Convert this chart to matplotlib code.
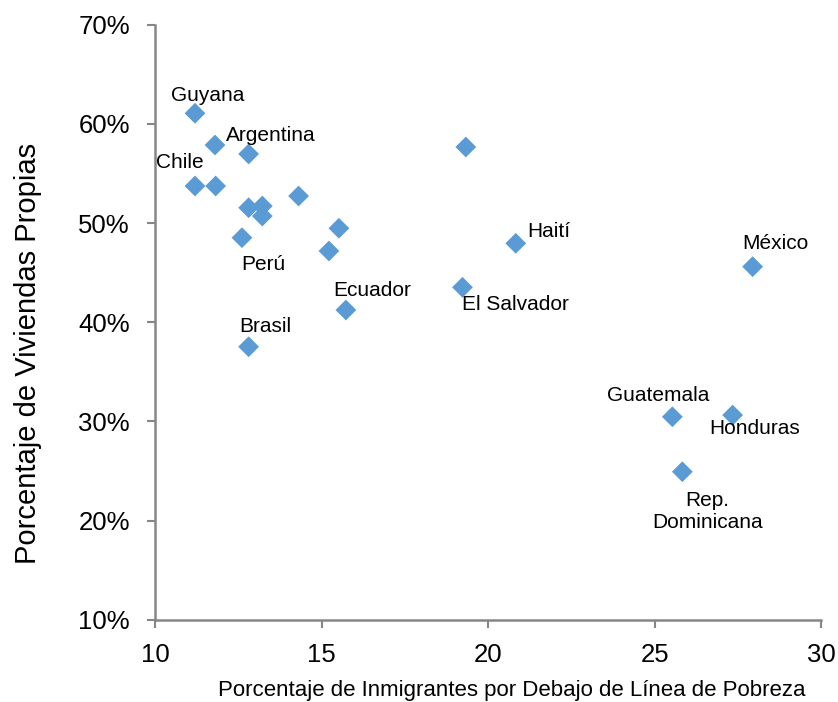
import matplotlib
matplotlib.use("Agg")
import matplotlib.pyplot as plt
from matplotlib.ticker import FuncFormatter

plt.rcParams['font.family'] = ['Liberation Sans', 'DejaVu Sans']

# Data (x: % immigrants below poverty line, y: % own housing)
pobreza = [11.2, 11.8, 12.81, 11.2, 11.82, 12.81, 13.22, 13.22, 12.61, 14.31,
           15.52, 15.22, 15.73, 12.81, 19.33, 20.83, 19.23, 27.94, 25.53, 27.34, 25.83]
viviendas = [61.06, 57.86, 56.96, 53.73, 53.73, 51.54, 51.71, 50.7, 48.52, 52.72,
             49.47, 47.18, 41.23, 37.53, 57.66, 47.95, 43.52, 45.6, 30.47, 30.64, 24.93]

# labels: (point index, text)
etiquetas = [
    (0, "Guyana"), (1, "Argentina"), (3, "Chile"), (8, "Perú"), (13, "Brasil"),
    (12, "Ecuador"), (15, "Haití"), (16, "El Salvador"), (17, "México"),
    (18, "Guatemala"), (19, "Honduras"), (20, "Rep.\nDominicana"),
]
# label offsets in pixels (dx, dy) with dy positive upward
offsets = {
    0: (13, 18), 1: (56, 10), 3: (-15, 23), 8: (21, -27), 13: (17, 20),
    12: (26, 20), 15: (33, 12), 16: (53, -17), 17: (23, 23),
    18: (-14, 21), 19: (22, -13), 20: (25, -40),
}

xticks = [10, 15, 20, 25, 30]
yticks = [10, 20, 30, 40, 50, 60, 70]

fig = plt.figure(figsize=(8.38, 7.02), dpi=100)
ax = fig.add_axes([0.185, 0.117, 0.795, 0.848])

ax.scatter(pobreza, viviendas, marker='D', s=112, color='#5B9BD5', edgecolors='none', zorder=3)

for idx, txt in etiquetas:
    dx, dy = offsets[idx]
    ax.annotate(txt, (pobreza[idx], viviendas[idx]), xytext=(dx, dy),
                textcoords='offset pixels', ha='center', va='center',
                fontsize=15, color='black', multialignment='center', zorder=4)

ax.set_xlim(10, 30)
ax.set_ylim(10, 70)
ax.set_xticks(xticks)
ax.set_yticks(yticks)
ax.yaxis.set_major_formatter(FuncFormatter(lambda v, p: f"{v:.0f}%"))

for s in ['top', 'right']:
    ax.spines[s].set_visible(False)
for s in ['left', 'bottom']:
    ax.spines[s].set_color('#868686')
    ax.spines[s].set_linewidth(1.8)

ax.tick_params(axis='both', direction='out', length=6, width=1.5, color='#868686',
               labelsize=18.5, labelcolor='black')
ax.tick_params(axis='y', pad=12)
ax.tick_params(axis='x', pad=11)

ax.set_xlabel("Porcentaje de Inmigrantes por Debajo de Línea de Pobreza", fontsize=16, labelpad=9)
ax.set_ylabel("Porcentaje de Viviendas Propias", fontsize=21, labelpad=26)
ax.xaxis.label.set_x(0.535)
ax.yaxis.label.set_y(0.448)

fig.savefig("out.png", dpi=100)
